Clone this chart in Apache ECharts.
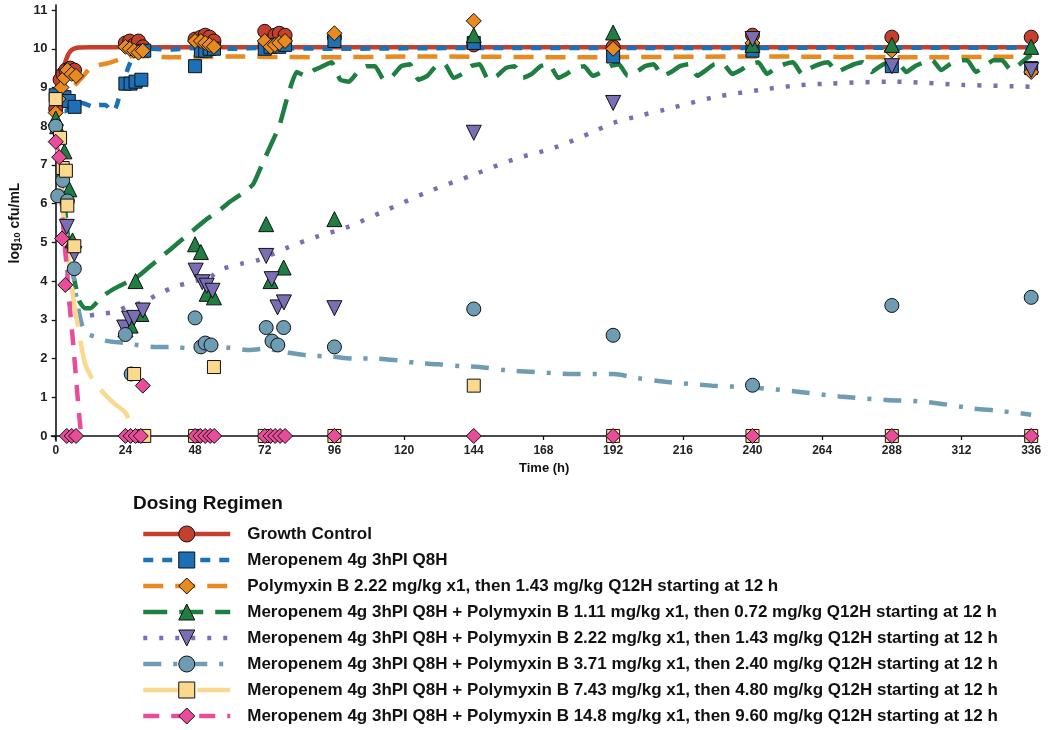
<!DOCTYPE html>
<html><head><meta charset="utf-8">
<script src="https://cdn.jsdelivr.net/npm/echarts@6/dist/echarts.min.js"></script>
<style>html,body{margin:0;padding:0;background:#fff}#c{width:1050px;height:730px}</style>
</head><body><div id="c"></div>
<script>
const xTicks = [0,24,48,72,96,120,144,168,192,216,240,264,288,312,336];
const yTicks = [0,1,2,3,4,5,6,7,8,9,10,11];
const names = [
  'Growth Control',
  'Meropenem 4g 3hPI Q8H',
  'Polymyxin B 2.22 mg/kg x1, then 1.43 mg/kg Q12H starting at 12 h',
  'Meropenem 4g 3hPI Q8H + Polymyxin B 1.11 mg/kg x1, then 0.72 mg/kg Q12H starting at 12 h',
  'Meropenem 4g 3hPI Q8H + Polymyxin B 2.22 mg/kg x1, then 1.43 mg/kg Q12H starting at 12 h',
  'Meropenem 4g 3hPI Q8H + Polymyxin B 3.71 mg/kg x1, then 2.40 mg/kg Q12H starting at 12 h',
  'Meropenem 4g 3hPI Q8H + Polymyxin B 7.43 mg/kg x1, then 4.80 mg/kg Q12H starting at 12 h',
  'Meropenem 4g 3hPI Q8H + Polymyxin B 14.8 mg/kg x1, then 9.60 mg/kg Q12H starting at 12 h'
];

// observed data [time h, log10 cfu/mL]
const obsGrowth = [[0,8.45],[1.5,9.2],[2.5,9.35],[3.5,9.45],[5,9.5],[6.5,9.45],[24,10.15],[25.5,10.2],[27,10.1],[28.5,10.2],[30,10.05],[48,10.25],[50,10.3],[51.5,10.35],[53,10.3],[54.5,10.2],[72,10.45],[74,10.2],[75.5,10.35],[77,10.4],[79,10.35],[96,10.3],[144,10.1],[192,10.05],[240,10.35],[288,10.3],[336,10.3]];
const obsMero = [[0,8.8],[3,8.75],[4.5,8.65],[6.5,8.5],[24,9.1],[25.8,9.1],[27.5,9.15],[29.5,9.2],[30.5,9.95],[48,9.55],[50,9.95],[51.5,9.95],[53,10.0],[54.5,10.0],[72,10.0],[74,10.05],[75.5,10.1],[77,10.05],[79,10.1],[96,10.2],[144,10.15],[192,9.8],[240,9.95],[288,9.55],[336,9.5]];
const obsPmb = [[0,8.35],[1,8.7],[2,9.0],[3,9.25],[4,9.45],[5.5,9.35],[7,9.3],[24,10.05],[25.5,10.0],[27,9.95],[28.5,9.9],[30,9.95],[48,10.2],[50,10.2],[51.5,10.15],[53,10.1],[54.5,10.05],[72,10.2],[74,10.05],[75.5,10.1],[77,10.15],[79,10.2],[96,10.4],[144,10.72],[192,10.0],[240,10.15],[288,9.95],[336,9.4]];
const obsCombo111 = [[0,8.2],[0.5,8.0],[3,7.35],[4.7,6.37],[5.8,5.05],[24,2.75],[25.8,2.85],[27.5,4.0],[29.5,3.15],[48,4.95],[50,4.75],[52,3.67],[54.5,3.58],[72.5,5.47],[74,4.0],[78.5,4.35],[96,5.6],[144,10.35],[192,10.42],[240,10.1],[288,10.1],[336,10.05]];
const obsCombo222 = [[0,7.85],[3.8,5.4],[6.4,4.7],[23.6,2.8],[25.3,3.03],[27,3.05],[30,3.24],[48.2,4.27],[50.5,3.97],[52,3.88],[54,3.75],[72.5,4.65],[74.4,4.05],[76.4,3.32],[78.6,3.45],[96,3.3],[144,7.83],[192,8.6],[240,10.25],[288,9.55],[336,9.45]];
const obsCombo371 = [[0,8.0],[0.7,6.2],[2.4,6.6],[4,6.07],[6.4,4.32],[24,2.62],[26,1.6],[48,3.05],[50,2.3],[51.5,2.4],[53.5,2.35],[72.5,2.8],[74.5,2.45],[76.5,2.35],[78.5,2.8],[96,2.3],[144,3.28],[192,2.6],[240,1.31],[288,3.37],[336,3.58]];
const obsCombo743 = [[0,8.7],[1.5,7.7],[2.4,6.92],[3.5,6.85],[4,5.95],[6.4,4.9],[27,1.6],[30.5,0],[54.5,1.78],[144,1.3],[48,0],[72,0],[96,0],[192,0],[240,0],[288,0],[336,0]];
const obsCombo148 = [[0,7.6],[1.2,7.2],[2.2,5.1],[3.3,3.9],[3.8,0],[5.5,0],[7,0],[24,0],[25.8,0],[27.5,0],[29.3,0],[30,1.3],[48,0],[49.8,0],[51.5,0],[53.2,0],[54.6,0],[72,0],[74,0],[75.6,0],[77.3,0],[79,0],[96,0],[144,0],[192,0],[240,0],[288,0],[336,0]];

// model predicted profiles
const fitGrowth = [[0,8.5],[1,8.9],[2,9.3],[3,9.58],[4,9.8],[5,9.93],[6,9.99],[8,10.03],[12,10.04],[336,10.04]];
const fitMero = [[0,8.8],[1.5,8.5],[3,8.38],[5,8.5],[7,8.57],[9,8.6],[11,8.55],[13,8.5],[15,8.55],[17,8.55],[19,8.42],[20.5,8.45],[22,8.8],[24,9.3],[26,9.7],[28,9.93],[32,10.0],[40,9.98],[48,10.02],[60,10.0],[72,10.02],[96,10.0],[144,10.02],[200,10.02],[336,10.03]];
const fitPmb = [[0,8.4],[2,8.6],[4,8.75],[6,9.0],[9,9.25],[12,9.5],[15,9.58],[18,9.63],[21,9.7],[24,9.78],[28,9.82],[40,9.78],[60,9.8],[90,9.78],[130,9.8],[180,9.78],[240,9.8],[300,9.78],[336,9.8]];
const fitCombo111 = [[0,8.1],[2,6.8],[4,5.3],[6,4.2],[8,3.5],[10,3.3],[12,3.3],[16,3.6],[20,3.8],[24,3.95],[28,4.1],[32,4.35],[36,4.6],[40,4.85],[44,5.1],[48,5.35],[52,5.6],[56,5.8],[60,6.05],[64,6.25],[68,6.5],[71,7.0],[74,7.5],[77,8.0],[80,8.8],[83,9.4],[86,9.3],[89,9.45],[92,9.55],[95,9.65],[98,9.2],[101,9.15],[104,9.4],[107,9.55],[110,9.55],[113,9.2],[116,9.3],[119,9.55],[122,9.6],[125,9.2],[128,9.3],[131,9.55],[134,9.6],[137,9.25],[140,9.35],[143,9.55],[146,9.6],[149,9.2],[152,9.3],[155,9.5],[158,9.55],[161,9.25],[164,9.35],[167,9.55],[170,9.6],[173,9.25],[176,9.35],[179,9.5],[182,9.55],[185,9.3],[188,9.4],[191,9.55],[194,9.6],[197,9.3],[200,9.4],[203,9.55],[206,9.6],[209,9.3],[212,9.4],[215,9.55],[218,9.6],[221,9.3],[224,9.45],[227,9.6],[230,9.6],[233,9.35],[236,9.45],[239,9.6],[242,9.65],[245,9.35],[248,9.5],[251,9.6],[254,9.65],[257,9.35],[260,9.5],[263,9.6],[266,9.65],[269,9.4],[272,9.5],[275,9.6],[278,9.65],[281,9.4],[284,9.55],[287,9.65],[290,9.65],[293,9.4],[296,9.55],[299,9.65],[302,9.7],[305,9.45],[308,9.6],[311,9.7],[314,9.7],[317,9.4],[320,9.55],[323,9.7],[326,9.7],[329,9.45],[332,9.6],[336,9.85]];
const fitCombo222 = [[0,8.0],[2,6.3],[4,4.3],[6,3.1],[10,3.1],[15,3.15],[20,3.2],[25,3.35],[30,3.45],[35,3.65],[41,3.85],[48,4.0],[53,4.1],[57,4.3],[64,4.45],[70,4.55],[80,4.87],[90,5.15],[100,5.38],[112,5.77],[128,6.3],[144,6.75],[158,7.15],[172,7.45],[185,7.85],[192,8.08],[200,8.25],[210,8.43],[227,8.75],[243,8.94],[255,9.05],[266,9.1],[288,9.15],[300,9.12],[312,9.07],[336,9.02]];
const fitCombo371 = [[0,8.0],[2,6.5],[4,5.0],[6,4.2],[7.5,3.4],[10,2.7],[14,2.55],[18,2.45],[24,2.4],[28,2.35],[34,2.3],[40,2.3],[48,2.25],[55,2.3],[60,2.28],[66,2.22],[72,2.25],[80,2.15],[87,2.08],[95,2.05],[103,2.0],[110,2.0],[118,1.95],[125,1.88],[132,1.85],[140,1.8],[146,1.78],[155,1.7],[165,1.65],[178,1.6],[192,1.6],[200,1.5],[210,1.4],[226,1.3],[240,1.25],[255,1.15],[270,1.02],[286,0.93],[300,0.88],[316,0.71],[325,0.65],[336,0.55]];
const fitCombo743 = [[0,8.0],[2,6.2],[4,4.8],[6,3.6],[7.5,2.9],[10,1.9],[12,1.55],[16,1.15],[20,0.85],[24,0.6],[26,0.3],[28,0]];
const fitCombo148 = [[0,7.8],[1,7.0],[2,6.0],[3,5.0],[4,4.2],[5,3.2],[6,2.4],[7,1.5],[8,0.6],[8.8,0]];

const colors = ['#C4402C','#1B70B7','#E88A20','#1F7F42','#7A6EB4','#6E9CB3','#FAD88D','#E84C9B'];
const symbols = ['circle','rect','diamond','triangle','triangle','circle','rect','diamond'];
const rotates = [0,0,0,0,180,0,0,0];
const sizes = [14,13,15,15,15,14,13,15];
const dashes = ['solid',[10,9],[20,12],[24,12],[4,12],[18,12,4,12],[40,14],[16,12]];
const fits = [fitGrowth,fitMero,fitPmb,fitCombo111,fitCombo222,fitCombo371,fitCombo743,fitCombo148];
const obs = [obsGrowth,obsMero,obsPmb,obsCombo111,obsCombo222,obsCombo371,obsCombo743,obsCombo148];
const smooths = [0.3,0.3,0.3,0.15,0.3,0.3,0.3,0.2];

const FONT = 'Liberation Sans, Arial, sans-serif';
const series = [];
names.forEach((n,i)=>{
  series.push({
    name:n, type:'line', data:fits[i], showSymbol:false, symbol:symbols[i], symbolRotate:rotates[i], symbolSize:sizes[i],
    smooth:smooths[i], z:2, silent:true,
    itemStyle:{color:colors[i], borderColor:'#111', borderWidth:1},
    lineStyle:{color:colors[i], width:4.5, type:dashes[i], cap:'butt'}
  });
});
names.forEach((n,i)=>{
  series.push({
    name:n, type:'scatter', data:obs[i], symbol:symbols[i], symbolRotate:rotates[i], symbolSize:sizes[i], z:3, silent:true,
    itemStyle:{color:colors[i], borderColor:'#111', borderWidth:1, opacity:1}
  });
});

const chart = echarts.init(document.getElementById('c'));
chart.setOption({
  animation:false,
  backgroundColor:'#fff',
  grid:{left:48.6, right:13, top:5, bottom:289, containLabel:false},
  xAxis:{
    type:'value', min:-1.5, max:338,
    name:'Time (h)', nameLocation:'middle', nameGap:20,
    nameTextStyle:{fontFamily:FONT, fontWeight:'bold', fontSize:13, color:'#111'},
    axisLine:{lineStyle:{color:'#111', width:1.6}},
    axisTick:{show:true, length:4, lineStyle:{color:'#111', width:1.3}, customValues:xTicks},
    axisLabel:{customValues:xTicks, fontFamily:FONT, fontWeight:'bold', fontSize:12, color:'#222', margin:4},
    splitLine:{show:false}
  },
  yAxis:{
    type:'value', min:-0.13, max:11.13,
    name:'log{s|10} cfu/mL', nameLocation:'middle', nameGap:26, nameRotate:90,
    nameTextStyle:{fontFamily:FONT, fontWeight:'bold', fontSize:14, color:'#111',
      rich:{s:{fontFamily:FONT, fontWeight:'bold', fontSize:9, color:'#111', padding:[5,0,0,0]}}},
    axisLine:{show:true, lineStyle:{color:'#111', width:1.6}},
    axisTick:{show:true, length:4, lineStyle:{color:'#111', width:1.3}, customValues:yTicks},
    axisLabel:{customValues:yTicks, fontFamily:FONT, fontWeight:'bold', fontSize:13, color:'#222', margin:4},
    splitLine:{show:false}
  },
  title:{text:'Dosing Regimen', left:128, top:489, padding:5, textStyle:{fontFamily:FONT, fontWeight:'bold', fontSize:19, color:'#111'}},
  legend:{
    orient:'vertical', left:141, top:525, padding:0, itemWidth:87, itemHeight:20, itemGap:8,
    data:names, selectedMode:false,
    itemStyle:{borderWidth:1, borderColor:'#111'},
    lineStyle:{width:4.5},
    textStyle:{fontFamily:FONT, fontWeight:'bold', fontSize:17, color:'#111', padding:[0,0,0,12], lineHeight:18}
  },
  series:series
});
</script></body></html>
